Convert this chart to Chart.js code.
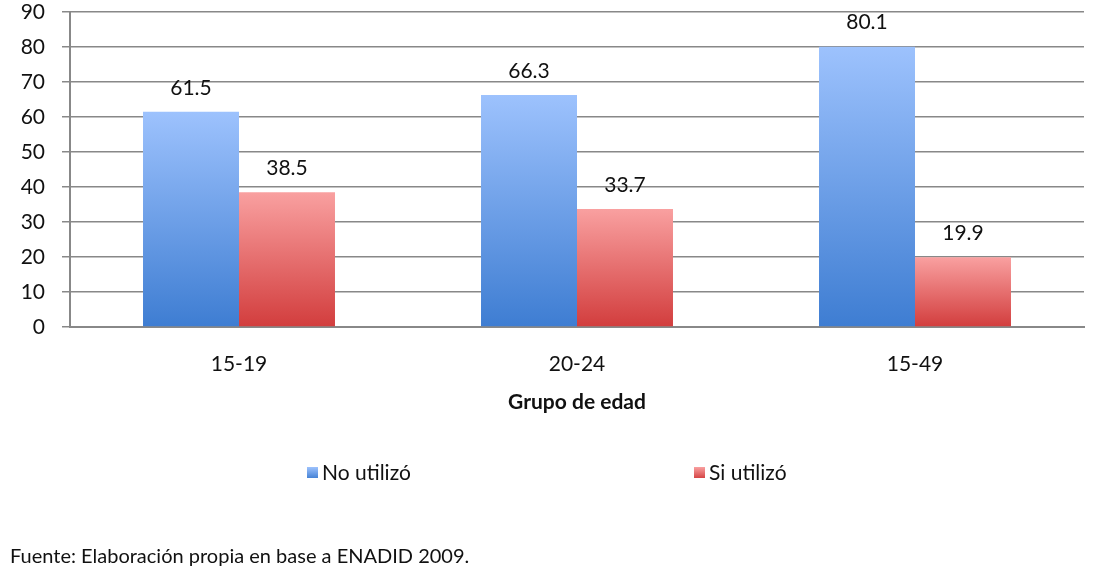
<!DOCTYPE html>
<html>
<head>
<meta charset="utf-8">
<script src="https://cdn.jsdelivr.net/npm/chart.js@4/dist/chart.umd.min.js"></script>
<style>
  body { margin: 0; background: #fff; }
  #grafico { display: block; }
</style>
</head>
<body>
<canvas id="grafico" width="1095" height="579"></canvas>
<script>
// DATOS DEL GRAFICO
const gruposEdad = ['15-19', '20-24', '15-49'];
const noUtilizo = [61.5, 66.3, 80.1];
const siUtilizo = [38.5, 33.7, 19.9];
const ticksY = [0, 10, 20, 30, 40, 50, 60, 70, 80, 90];
const nombresSeries = ['No utilizó', 'Si utilizó'];
const tituloX = 'Grupo de edad';
const fuente = 'Fuente: Elaboración propia en base a ENADID 2009.';

const letra = 'Lato, "Open Sans", sans-serif';
const azul = ['#9dc2fd', '#3e7dd2'];
const rojo = ['#f9a0a0', '#d23d3d'];

// degradado vertical por barra (claro arriba, oscuro abajo)
function degradado(ctx, colores) {
    const chart = ctx.chart;
    if (!chart.chartArea || ctx.type !== 'data') return colores[1];
    const y = chart.scales.y;
    const yTop = y.getPixelForValue(ctx.raw);
    const yBase = y.getPixelForValue(0);
    const g = chart.ctx.createLinearGradient(0, yTop, 0, yBase);
    g.addColorStop(0, colores[0]);
    g.addColorStop(1, colores[1]);
    return g;
}

// etiquetas de valor encima de cada barra
const etiquetas = {
    id: 'etiquetas',
    afterDatasetsDraw(chart) {
        const c = chart.ctx;
        c.save();
        c.font = '21px ' + letra;
        c.fillStyle = '#111';
        c.textAlign = 'center';
        c.textBaseline = 'middle';
        chart.data.datasets.forEach((ds, i) => {
            chart.getDatasetMeta(i).data.forEach((bar, j) => {
                c.fillText(ds.data[j].toFixed(1), bar.x, bar.y - 24);
            });
        });
        c.restore();
    }
};

// leyenda y fuente dibujadas abajo
const leyenda = {
    id: 'leyenda',
    afterDraw(chart) {
        const c = chart.ctx;
        const items = [
            { texto: nombresSeries[0], colores: azul, x: 307 },
            { texto: nombresSeries[1], colores: rojo, x: 694 }
        ];
        c.save();
        c.font = '21px ' + letra;
        c.textBaseline = 'middle';
        items.forEach(it => {
            const g = c.createLinearGradient(0, 467, 0, 479);
            g.addColorStop(0, it.colores[0]);
            g.addColorStop(1, it.colores[1]);
            c.fillStyle = g;
            c.fillRect(it.x, 467, 11, 11);
            c.fillStyle = '#111';
            c.textAlign = 'left';
            c.fillText(it.texto, it.x + 15, 473);
        });
        c.font = '20px ' + letra;
        c.fillText(fuente, 10, 557);
        c.restore();
    }
};

new Chart(document.getElementById('grafico'), {
    type: 'bar',
    data: {
        labels: gruposEdad,
        datasets: [
            {
                label: nombresSeries[0],
                data: noUtilizo,
                backgroundColor: ctx => degradado(ctx, azul),
                borderWidth: 0
            },
            {
                label: nombresSeries[1],
                data: siUtilizo,
                backgroundColor: ctx => degradado(ctx, rojo),
                borderWidth: 0
            }
        ]
    },
    options: {
        responsive: false,
        animation: false,
        devicePixelRatio: 1,
        categoryPercentage: 0.568,
        barPercentage: 1,
        layout: { padding: { top: 12, right: 11, bottom: 152, left: 0 } },
        plugins: {
            legend: { display: false },
            tooltip: { enabled: false }
        },
        scales: {
            x: {
                grid: { display: false, drawTicks: false },
                border: { display: true, color: '#888', width: 2 },
                ticks: { color: '#111', font: { family: letra, size: 21 }, padding: 25 },
                title: {
                    display: true,
                    text: tituloX,
                    color: '#111',
                    font: { family: letra, size: 21, weight: 'bold' },
                    padding: { top: 0, bottom: 12 }
                },
                afterFit: s => { s.height = 100; s.paddingLeft = 0; s.paddingRight = 0; }
            },
            y: {
                min: 0,
                max: 90,
                afterBuildTicks: s => { s.ticks = ticksY.map(v => ({ value: v })); },
                grid: { color: '#888', lineWidth: 1.5, tickLength: 8 },
                border: { display: true, color: '#888', width: 2 },
                ticks: { color: '#111', font: { family: letra, size: 21 }, padding: 17 },
                afterFit: s => { s.width = 70; s.paddingTop = 0; s.paddingBottom = 0; }
            }
        }
    },
    plugins: [etiquetas, leyenda]
});
</script>
</body>
</html>
